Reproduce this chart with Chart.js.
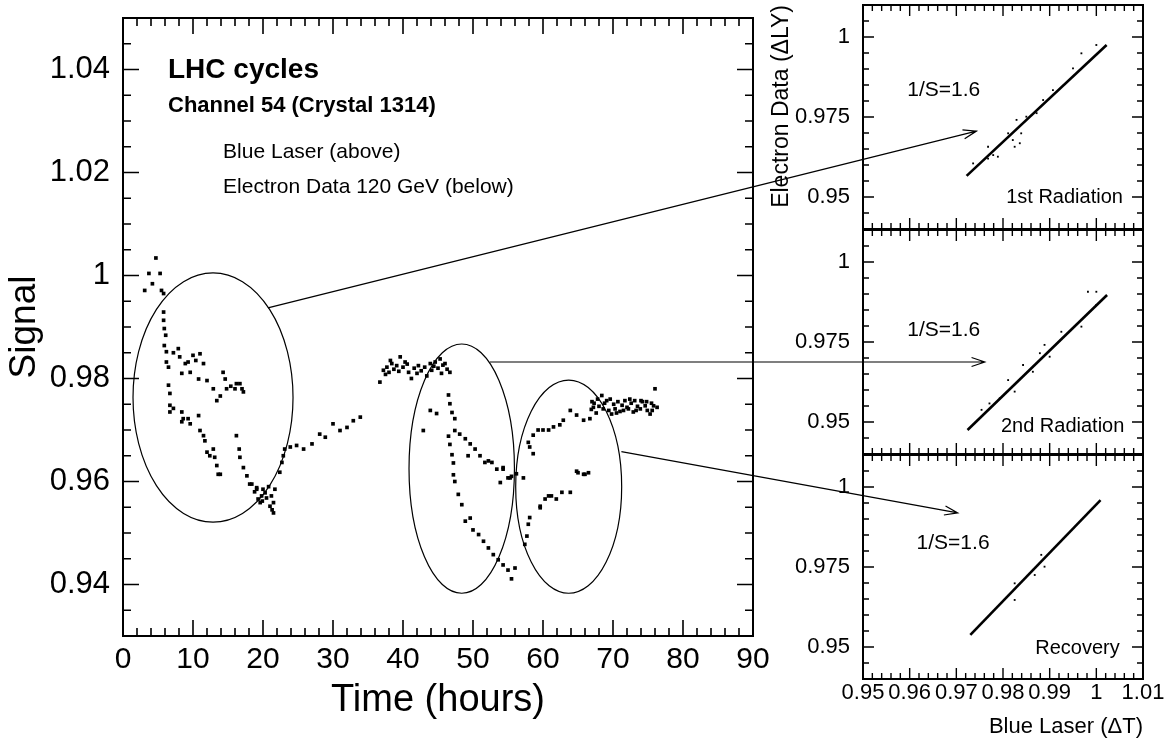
<!DOCTYPE html>
<html>
<head>
<meta charset="utf-8">
<script src="https://cdn.jsdelivr.net/npm/chart.js@4.4.1/dist/chart.umd.min.js"></script>
<style>
body { margin: 0; background: #fff; }
#wrap { position: relative; width: 1168px; height: 740px; }
#wrap canvas { position: absolute; }
</style>
</head>
<body>
<div id="wrap">
<canvas id="main" width="770" height="740" style="left:0;top:0"></canvas>
<canvas id="rad1" width="398" height="233" style="left:770px;top:0"></canvas>
<canvas id="rad2" width="398" height="233" style="left:770px;top:225px"></canvas>
<canvas id="recov" width="398" height="290" style="left:770px;top:450px"></canvas>
<canvas id="arrows" width="1168" height="740" style="left:0;top:0;pointer-events:none"></canvas>
</div>
<script>
// main plot: signal vs time
const hourTicks = [0, 10, 20, 30, 40, 50, 60, 70, 80, 90];
const signalTicks = [0.94, 0.96, 0.98, 1, 1.02, 1.04];

// blue laser (above)
const laserHours = [
  3.1, 3.7, 4.2, 4.7, 5.3, 5.5, 5.8, 5.8, 5.8, 5.9, 6.1, 5.9, 6.2, 6.2, 6.5,
  7.2, 7.9, 8.1, 8.4, 8.9, 9.3, 9.6, 10.0, 10.4, 10.8, 11.0, 11.5, 12.0, 12.9, 13.4,
  13.9, 14.3, 14.6, 14.8, 15.4, 16.0, 16.2, 16.7, 17.0, 17.2,
  36.7, 37.2, 37.5, 37.7, 38.0, 38.4, 38.7, 39.1, 39.4, 39.6, 40.0, 40.3, 40.8, 41.2,
  41.6, 42.2, 42.6, 43.1, 43.4, 43.9, 44.1, 44.6, 45.0, 45.3, 45.7, 46.0, 46.3, 46.7,
  38.2, 40.6, 42.0, 44.4, 45.5,
  46.5, 46.7, 47.0, 47.4, 47.4, 48.1, 48.9, 49.3, 49.6, 50.3, 51.0, 51.7, 52.2, 52.7,
  53.4, 53.9, 54.3, 54.3, 55.0, 55.3, 55.5, 56.2, 57.2,
  57.9, 58.1, 58.6, 58.6, 59.3, 60.0, 60.8, 61.5, 62.4, 62.9, 63.9, 64.8, 65.8, 66.7, 67.2,
  66.9, 67.3, 67.6, 68.0, 68.4, 68.6, 69.1, 69.4, 69.8, 70.1, 70.3, 70.7, 71.0, 71.3, 71.7,
  72.0, 72.2, 72.6, 72.9, 73.1, 73.5, 73.9, 74.2, 74.6, 74.9, 75.3, 75.5, 75.8, 76.0, 76.3,
  67.0, 67.8, 68.8, 69.6, 70.5, 71.5, 72.4, 73.3, 74.0, 74.8, 75.6
];
const laserSignal = [
  0.9971, 1.0004, 0.9984, 1.0034, 1.0004, 0.9971, 0.9965, 0.9929, 0.9913, 0.9897, 0.9884, 0.9864, 0.9852, 0.9832, 0.9822,
  0.9850, 0.9858, 0.9842, 0.9810, 0.9829, 0.9832, 0.9812, 0.9845, 0.9835, 0.9799, 0.9848, 0.9829, 0.9796, 0.9780, 0.9757,
  0.9766, 0.9812, 0.9799, 0.9780, 0.9785, 0.9780, 0.9790, 0.9790, 0.9780, 0.9774,
  0.9793, 0.9816, 0.9808, 0.9822, 0.9812, 0.9829, 0.9818, 0.9825, 0.9814, 0.9842, 0.9822, 0.9832, 0.9812, 0.9800,
  0.9820, 0.9825, 0.9815, 0.9822, 0.9805, 0.9829, 0.9816, 0.9832, 0.9820, 0.9838, 0.9826, 0.9829, 0.9818, 0.9812,
  0.9835, 0.9828, 0.9810, 0.9824, 0.9810,
  0.9768, 0.9751, 0.9734, 0.9722, 0.9699, 0.9692, 0.9683, 0.9650, 0.9673, 0.9663, 0.9650, 0.9637, 0.9640, 0.9637,
  0.9624, 0.9598, 0.9627, 0.9624, 0.9607, 0.9607, 0.9610, 0.9615, 0.9607,
  0.9676, 0.9667, 0.9654, 0.9690, 0.9700, 0.9700, 0.9700, 0.9706, 0.9710, 0.9719, 0.9738, 0.9729, 0.9719, 0.9722, 0.9744,
  0.9740, 0.9752, 0.9733, 0.9746, 0.9767, 0.9741, 0.9757, 0.9738, 0.9731, 0.9750, 0.9741, 0.9755, 0.9736, 0.9748, 0.9757,
  0.9744, 0.9741, 0.9752, 0.9735, 0.9757, 0.9746, 0.9741, 0.9755, 0.9747, 0.9738, 0.9731, 0.9752, 0.9747, 0.9780, 0.9744,
  0.9755, 0.9760, 0.9752, 0.9760, 0.9733, 0.9738, 0.9760, 0.9738, 0.9757, 0.9755, 0.9738
];

// electron data 120 GeV (below)
const electronHours = [
  6.5, 6.7, 6.7, 6.7, 7.2, 8.4, 8.6, 8.4, 9.3, 9.6, 10.8, 11.0, 11.5, 11.7, 12.0, 12.4, 12.9, 13.1, 13.4, 13.6, 13.9,
  16.2, 16.6, 16.7, 17.2, 17.7, 18.1, 18.4, 19.1, 19.1, 19.3, 19.6, 19.8, 20.0, 20.5, 21.0, 21.2, 21.5, 21.5, 21.7,
  18.8, 19.9, 20.3, 20.8, 21.3,
  22.4, 22.7, 22.9, 23.1, 23.9, 24.8, 25.8, 27.0, 28.1, 28.9, 30.0, 31.0, 32.0, 32.9, 33.9,
  42.9, 43.9, 44.8,
  46.5, 46.7, 47.0, 47.2, 47.2, 47.4, 47.9, 48.4, 48.9, 49.6, 50.0, 50.8, 51.5, 52.2, 52.9, 53.6, 54.3, 55.0, 55.5, 56.0,
  57.4, 57.7, 57.9, 58.1, 59.6, 59.6, 60.3, 60.8, 61.2, 61.9, 62.7, 63.9, 64.8, 65.0, 65.8, 66.0, 66.5
];
const electronSignal = [
  0.9787, 0.9771, 0.9748, 0.9735, 0.9742, 0.9735, 0.9722, 0.9716, 0.9722, 0.9712, 0.9728, 0.9699, 0.9689, 0.9679, 0.9657, 0.9650, 0.9663, 0.9647, 0.9631, 0.9614, 0.9614,
  0.9689, 0.9663, 0.9647, 0.9627, 0.9611, 0.9595, 0.9595, 0.9585, 0.9588, 0.9566, 0.9559, 0.9572, 0.9585, 0.9568, 0.9552, 0.9572, 0.9559, 0.9539, 0.9585,
  0.9580, 0.9562, 0.9578, 0.9590, 0.9545,
  0.9618, 0.9637, 0.9650, 0.9663, 0.9667, 0.9670, 0.9663, 0.9673, 0.9692, 0.9686, 0.9712, 0.9699, 0.9705, 0.9718, 0.9725,
  0.9699, 0.9738, 0.9732,
  0.9688, 0.9672, 0.9652, 0.9636, 0.9613, 0.9600, 0.9575, 0.9555, 0.9523, 0.9529, 0.9506, 0.9497, 0.9484, 0.9471, 0.9458, 0.9448, 0.9438, 0.9428, 0.9411, 0.9432,
  0.9478, 0.9494, 0.9517, 0.9530, 0.9549, 0.9552, 0.9566, 0.9572, 0.9572, 0.9566, 0.9579, 0.9579, 0.9620, 0.9617, 0.9614, 0.9614, 0.9617
];

// correlation panels: blue laser (dT) vs electron data (dLY)
const laserTicks = [0.95, 0.96, 0.97, 0.98, 0.99, 1, 1.01];
const lyTicks = [0.95, 0.975, 1];

const rad1FitLaser = [0.9722, 1.0022];
const rad1FitLY = [0.9566, 0.9975];
const rad1Laser = [0.9736, 0.9768, 0.9768, 0.9779, 0.9789, 0.9811, 0.9821, 0.9825, 0.9829, 0.9836, 0.9839, 0.9850, 0.9872, 0.9886, 0.9907, 0.9950, 0.9968, 1.0000];
const rad1LY = [0.9605, 0.9657, 0.9620, 0.9631, 0.9626, 0.9699, 0.9678, 0.9657, 0.9741, 0.9668, 0.9699, 0.9751, 0.9762, 0.9803, 0.9834, 0.9902, 0.9949, 0.9975];

const rad2FitLaser = [0.9724, 1.0023];
const rad2FitLY = [0.9475, 0.9897];
const rad2Laser = [0.9754, 0.9771, 0.9793, 0.9811, 0.9825, 0.9843, 0.9864, 0.9879, 0.9889, 0.9900, 0.9925, 0.9968, 0.9982, 1.0000, 1.0000];
const rad2LY = [0.9538, 0.9558, 0.9574, 0.9631, 0.9595, 0.9678, 0.9657, 0.9715, 0.9741, 0.9704, 0.9782, 0.9798, 0.9907, 0.9907, 0.9866];

const recFitLaser = [0.9730, 1.0009];
const recFitLY = [0.9538, 0.9959];
const recLaser = [0.9825, 0.9825, 0.9864, 0.9868, 0.9882, 0.9889];
const recLY = [0.9699, 0.9647, 0.9741, 0.9725, 0.9788, 0.9751];

// annotations on the main plot (ellipses and arrow starts, in data units)
const ringHours = [12.86, 48.39, 63.67];
const ringSignal = [0.9763, 0.9625, 0.9590];
const ringHalfHours = [11.43, 7.53, 7.57];
const ringHalfSignal = [0.0242, 0.0242, 0.0207];
const arrowFromHours = [20.7, 52.4, 71.2];
const arrowFromSignal = [0.9937, 0.9832, 0.9658];
const arrowToLaser = [0.9743, 0.9761, 0.9703];
const arrowToLY = [0.9706, 0.96875, 0.9919];

Chart.defaults.font.family = "'Liberation Sans', Arial, Helvetica, sans-serif";
Chart.defaults.color = '#000';

const zip = (xs, ys) => xs.map((x, i) => ({ x: x, y: ys[i] }));

// keep the plot box fixed: no extra room for half labels
const noPad = s => { s.paddingTop = 0; s.paddingBottom = 0; s.paddingLeft = 0; s.paddingRight = 0; };

// inward ticks on all four sides + frame
const frameTicks = {
  id: 'frameTicks',
  afterDraw(chart, args, o) {
    const { ctx, chartArea: a, scales: { x, y } } = chart;
    const marks = (s, step, major) => {
      const out = [];
      const n = Math.round((s.max - s.min) / step);
      for (let i = 0; i <= n; i++) {
        const v = s.min + i * step;
        const r = v / major;
        out.push({ p: s.getPixelForValue(v), big: Math.abs(r - Math.round(r)) < 1e-6 });
      }
      return out;
    };
    ctx.save();
    ctx.strokeStyle = '#000';
    ctx.lineWidth = o.tickWidth;
    ctx.beginPath();
    marks(x, o.xMinor, o.xMajor).forEach(m => {
      const L = m.big ? o.major : o.minor;
      ctx.moveTo(m.p, a.bottom); ctx.lineTo(m.p, a.bottom - L);
      ctx.moveTo(m.p, a.top); ctx.lineTo(m.p, a.top + L);
    });
    marks(y, o.yMinor, o.yMajor).forEach(m => {
      const L = m.big ? o.major : o.minor;
      ctx.moveTo(a.left, m.p); ctx.lineTo(a.left + L, m.p);
      ctx.moveTo(a.right, m.p); ctx.lineTo(a.right - L, m.p);
    });
    ctx.stroke();
    ctx.lineWidth = o.frameWidth;
    ctx.strokeRect(a.left, a.top, a.right - a.left, a.bottom - a.top);
    ctx.restore();
  }
};

// text placed in data coordinates
const notes = {
  id: 'notes',
  afterDraw(chart, args, o) {
    const { ctx, scales: { x, y } } = chart;
    ctx.save();
    ctx.fillStyle = '#000';
    ctx.textBaseline = 'middle';
    (o.items || []).forEach(t => {
      ctx.font = t.font;
      ctx.textAlign = t.align || 'left';
      ctx.fillText(t.text, x.getPixelForValue(t.x), y.getPixelForValue(t.y));
    });
    ctx.restore();
  }
};

const rings = {
  id: 'rings',
  afterDatasetsDraw(chart) {
    const { ctx, scales: { x, y } } = chart;
    ctx.save();
    ctx.strokeStyle = '#000';
    ctx.lineWidth = 1.2;
    ringHours.forEach((h, i) => {
      const cx = x.getPixelForValue(h), cy = y.getPixelForValue(ringSignal[i]);
      const rx = Math.abs(x.getPixelForValue(h + ringHalfHours[i]) - cx);
      const ry = Math.abs(y.getPixelForValue(ringSignal[i] + ringHalfSignal[i]) - cy);
      ctx.beginPath();
      ctx.ellipse(cx, cy, rx, ry, 0, 0, Math.PI * 2);
      ctx.stroke();
    });
    ctx.restore();
  }
};

const F = "'Liberation Sans', Arial, sans-serif";

const mainChart = new Chart(document.getElementById('main'), {
  type: 'scatter',
  data: {
    datasets: [
      { label: 'Blue Laser (above)', data: zip(laserHours, laserSignal), pointStyle: 'rect', pointRadius: 2.6, backgroundColor: '#000', borderWidth: 0 },
      { label: 'Electron Data 120 GeV (below)', data: zip(electronHours, electronSignal), pointStyle: 'rect', pointRadius: 2.6, backgroundColor: '#000', borderWidth: 0 }
    ]
  },
  options: {
    responsive: false,
    animation: false,
    layout: { padding: { top: 18, right: 17, left: 0, bottom: 0 } },
    plugins: {
      legend: { display: false },
      tooltip: { enabled: false },
      frameTicks: { xMinor: 2, xMajor: 10, yMinor: 0.005, yMajor: 0.02, major: 16, minor: 8, tickWidth: 1.6, frameWidth: 2 },
      notes: {
        items: [
          { x: 6.43, y: 1.0399, text: 'LHC cycles', font: 'bold 28px ' + F },
          { x: 6.43, y: 1.0330, text: 'Channel 54 (Crystal 1314)', font: 'bold 22px ' + F },
          { x: 14.3, y: 1.0240, text: 'Blue Laser (above)', font: '21px ' + F },
          { x: 14.3, y: 1.0172, text: 'Electron Data 120 GeV (below)', font: '21px ' + F }
        ]
      }
    },
    scales: {
      x: {
        type: 'linear', min: 0, max: 90,
        afterBuildTicks: s => { s.ticks = hourTicks.map(v => ({ value: v })); },
        afterFit: s => { s.height = 104; noPad(s); },
        grid: { display: false, drawTicks: false },
        border: { display: false },
        ticks: { autoSkip: false, maxRotation: 0, padding: 6, font: { size: 30 }, callback: v => String(v) },
        title: { display: true, text: 'Time (hours)', font: { size: 38 }, padding: { top: 0, bottom: 17 } }
      },
      y: {
        type: 'linear', min: 0.93, max: 1.05,
        afterBuildTicks: s => { s.ticks = signalTicks.map(v => ({ value: v })); },
        afterFit: s => { s.width = 123; noPad(s); },
        grid: { display: false, drawTicks: false },
        border: { display: false },
        ticks: { autoSkip: false, padding: 13, font: { size: 31 }, callback: v => String(v) },
        title: { display: true, text: 'Signal', font: { size: 37 }, padding: { top: 3, bottom: 0 } }
      }
    }
  },
  plugins: [rings, frameTicks, notes]
});

function makePanel(id, fitX, fitY, ptsX, ptsY, labels, showX, yTitle) {
  return new Chart(document.getElementById(id), {
    type: 'scatter',
    data: {
      datasets: [
        { data: zip(fitX, fitY), showLine: true, borderColor: '#000', borderWidth: 2.6, pointRadius: 0 },
        { data: zip(ptsX, ptsY), pointStyle: 'rect', pointRadius: 1.3, backgroundColor: '#000', borderWidth: 0 }
      ]
    },
    options: {
      responsive: false,
      animation: false,
      layout: { padding: { top: 5, right: 25, left: 0, bottom: showX ? 0 : 4 } },
      plugins: {
        legend: { display: false },
        tooltip: { enabled: false },
        frameTicks: { xMinor: 0.002, xMajor: 0.01, yMinor: 0.005, yMajor: 0.025, major: 11, minor: 6, tickWidth: 1.4, frameWidth: 2 },
        notes: { items: labels }
      },
      scales: {
        x: {
          type: 'linear', min: 0.95, max: 1.01, display: showX,
          afterBuildTicks: s => { s.ticks = laserTicks.map(v => ({ value: v })); },
          afterFit: s => { s.height = showX ? 61 : 0; noPad(s); },
          grid: { display: false, drawTicks: false },
          border: { display: false },
          ticks: { autoSkip: false, maxRotation: 0, minRotation: 0, padding: 1, font: { size: 22 }, callback: v => String(v) },
          title: { display: true, text: 'Blue Laser (\u0394T)', align: 'end', font: { size: 22, lineHeight: 1.2 }, padding: { top: 0, bottom: 0 } }
        },
        y: {
          type: 'linear', min: 0.94, max: 1.01,
          afterBuildTicks: s => { s.ticks = lyTicks.map(v => ({ value: v })); },
          afterFit: s => { s.width = 93; noPad(s); },
          grid: { display: false, drawTicks: false },
          border: { display: false },
          ticks: { autoSkip: false, padding: 13, font: { size: 22 }, callback: v => String(v) },
          title: { display: yTitle, text: 'Electron Data (\u0394LY)', align: 'end', font: { size: 23, lineHeight: 1 }, padding: { top: 0, bottom: 0 } }
        }
      }
    },
    plugins: [frameTicks, notes]
  });
}

const rad1Chart = makePanel('rad1', rad1FitLaser, rad1FitLY, rad1Laser, rad1LY, [
  { x: 0.9673, y: 0.9834, text: '1/S=1.6', font: '21px ' + F, align: 'center' },
  { x: 1.0057, y: 0.9500, text: '1st Radiation', font: '20px ' + F, align: 'right' }
], false, true);

const rad2Chart = makePanel('rad2', rad2FitLaser, rad2FitLY, rad2Laser, rad2LY, [
  { x: 0.9673, y: 0.9788, text: '1/S=1.6', font: '21px ' + F, align: 'center' },
  { x: 1.0060, y: 0.9485, text: '2nd Radiation', font: '20px ' + F, align: 'right' }
], false, false);

const recovChart = makePanel('recov', recFitLaser, recFitLY, recLaser, recLY, [
  { x: 0.9693, y: 0.9825, text: '1/S=1.6', font: '21px ' + F, align: 'center' },
  { x: 1.0050, y: 0.9496, text: 'Recovery', font: '20px ' + F, align: 'right' }
], true, false);

// arrows from the ellipses to the panels
const arrowTargets = [rad1Chart, rad2Chart, recovChart];
const toPage = (chart, xv, yv) => [
  chart.canvas.offsetLeft + chart.scales.x.getPixelForValue(xv),
  chart.canvas.offsetTop + chart.scales.y.getPixelForValue(yv)
];
const actx = document.getElementById('arrows').getContext('2d');
actx.strokeStyle = '#000';
actx.lineWidth = 1.2;
arrowFromHours.forEach((h, i) => {
  const [sx, sy] = toPage(mainChart, h, arrowFromSignal[i]);
  const [ex, ey] = toPage(arrowTargets[i], arrowToLaser[i], arrowToLY[i]);
  const ang = Math.atan2(ey - sy, ex - sx);
  actx.beginPath();
  actx.moveTo(sx, sy);
  actx.lineTo(ex, ey);
  actx.moveTo(ex - 14 * Math.cos(ang - 0.33), ey - 14 * Math.sin(ang - 0.33));
  actx.lineTo(ex, ey);
  actx.lineTo(ex - 14 * Math.cos(ang + 0.33), ey - 14 * Math.sin(ang + 0.33));
  actx.stroke();
});
</script>
</body>
</html>
